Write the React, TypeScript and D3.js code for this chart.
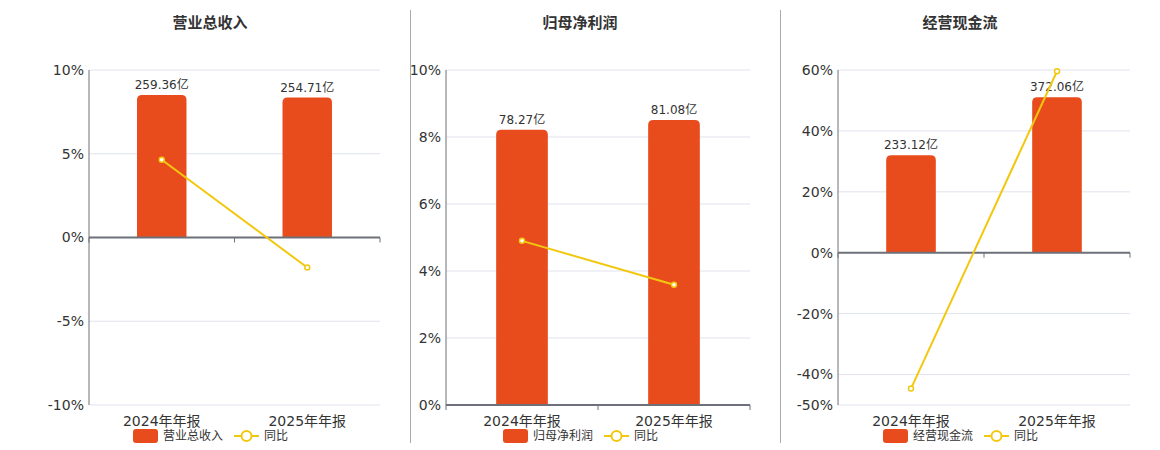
import React from "react";
import * as d3 from "d3";

const categories = ["2024年年报", "2025年年报"];

const revenue = [259.36, 254.71];
const revenueYoY = [4.64, -1.79];
const revenueTicks = [10, 5, 0, -5, -10];

const profit = [78.27, 81.08];
const profitYoY = [4.9, 3.59];
const profitTicks = [10, 8, 6, 4, 2, 0];

const cashflow = [233.12, 372.06];
const cashflowYoY = [-44.6, 59.6];
const cashflowTicks = [60, 40, 20, 0, -20, -40, -50];

const BAR = "#e84c1d";
const LINE = "#f2c80f";
const TEXT = "#333";
const AXIS = "#6e7079";
const GRID = "#e0e3ee";
const FONT = "'DejaVu Sans', 'Noto Sans CJK SC', sans-serif";

interface PanelProps {
  title: string;
  values: number[];
  yoy: number[];
  ticks: number[];
  left: number;
  right: number;
  titleX: number;
  legendX: number;
}

const top = 70;
const bottom = 405;

const Panel: React.FC<PanelProps> = ({ title, values, yoy, ticks, left, right, titleX, legendX }) => {
  const yPct = d3
    .scaleLinear()
    .domain([d3.min(ticks)!, d3.max(ticks)!])
    .range([bottom, top]);
  const zeroY = yPct(0);

  const x = d3.scaleBand<string>().domain(categories).range([left, right]);
  const bw = x.bandwidth() * 0.34;

  // bars sit on the zero line, scaled to their own hidden axis
  const yBar = d3
    .scaleLinear()
    .domain([0, d3.max(values)! / 0.851])
    .range([zeroY, top]);

  const line = d3
    .line<number>()
    .x((_, i) => x(categories[i])! + x.bandwidth() / 2)
    .y((d) => yPct(d));

  return (
    <g>
      <text
        x={titleX}
        y={28}
        textAnchor="middle"
        fontSize={15}
        fontWeight="bold"
        fill={TEXT}
      >
        {title}
      </text>

      {ticks.map((t) => (
        <g key={t}>
          <line x1={left} x2={right} y1={yPct(t)} y2={yPct(t)} stroke={GRID} />
          <text
            x={left - 5}
            y={yPct(t)}
            dy="0.35em"
            textAnchor="end"
            fontSize={14}
            fill={TEXT}
          >
            {t}%
          </text>
        </g>
      ))}

      <line x1={left} x2={left} y1={top} y2={bottom} stroke={AXIS} />

      {values.map((v, i) => {
        const cx = x(categories[i])! + x.bandwidth() / 2;
        const yTop = yBar(v);
        const h = zeroY - yTop;
        const r = 5;
        const x0 = cx - bw / 2;
        const path = `M${x0},${zeroY} V${yTop + r} Q${x0},${yTop} ${x0 + r},${yTop} H${x0 + bw - r} Q${x0 + bw},${yTop} ${x0 + bw},${yTop + r} V${zeroY} Z`;
        return (
          <g key={i}>
            {h > 0 && <path d={path} fill={BAR} />}
            <text x={cx} y={yTop - 6} textAnchor="middle" fontSize={12} fill={TEXT}>
              {v.toFixed(2)}亿
            </text>
          </g>
        );
      })}

      <line x1={left} x2={right} y1={zeroY} y2={zeroY} stroke={AXIS} strokeWidth={2} />
      {[left, ...categories.map((c) => x(c)! + x.bandwidth())].map((tx, i) => (
        <line key={i} x1={tx} x2={tx} y1={zeroY} y2={zeroY + 5} stroke={AXIS} />
      ))}

      <path d={line(yoy) ?? ""} fill="none" stroke={LINE} strokeWidth={2} />
      {yoy.map((v, i) => (
        <circle
          key={i}
          cx={x(categories[i])! + x.bandwidth() / 2}
          cy={yPct(v)}
          r={2.5}
          fill="#fff"
          stroke={LINE}
          strokeWidth={1.5}
        />
      ))}

      {categories.map((c) => (
        <text
          key={c}
          x={x(c)! + x.bandwidth() / 2}
          y={426}
          textAnchor="middle"
          fontSize={14}
          fill={TEXT}
        >
          {c}
        </text>
      ))}

      <g transform={`translate(${legendX},436)`}>
        <rect x={0} y={-7} width={25} height={14} rx={3} fill={BAR} />
        <text x={30} y={0} dy="0.35em" fontSize={12} fill={TEXT}>
          {title}
        </text>
        <g transform={`translate(${30 + title.length * 12 + 11},0)`}>
          <line x1={0} x2={25} y1={0} y2={0} stroke={LINE} strokeWidth={2} />
          <circle cx={12.5} cy={0} r={5} fill="#fff" stroke={LINE} strokeWidth={2} />
          <text x={30} y={0} dy="0.35em" fontSize={12} fill={TEXT}>
            同比
          </text>
        </g>
      </g>
    </g>
  );
};

export default function App() {
  return (
    <svg
      width={1160}
      height={450}
      style={{ position: "absolute", left: 0, top: 0, fontFamily: FONT, background: "#fff" }}
    >
      <Panel
        title="营业总收入"
        values={revenue}
        yoy={revenueYoY}
        ticks={revenueTicks}
        left={89}
        right={380}
        titleX={210}
        legendX={133}
      />
      <Panel
        title="归母净利润"
        values={profit}
        yoy={profitYoY}
        ticks={profitTicks}
        left={446}
        right={750}
        titleX={580}
        legendX={503}
      />
      <Panel
        title="经营现金流"
        values={cashflow}
        yoy={cashflowYoY}
        ticks={cashflowTicks}
        left={838}
        right={1130}
        titleX={960}
        legendX={883}
      />
      <line x1={410.5} x2={410.5} y1={10} y2={443} stroke="#aaa" />
      <line x1={780.5} x2={780.5} y1={10} y2={443} stroke="#aaa" />
    </svg>
  );
}
